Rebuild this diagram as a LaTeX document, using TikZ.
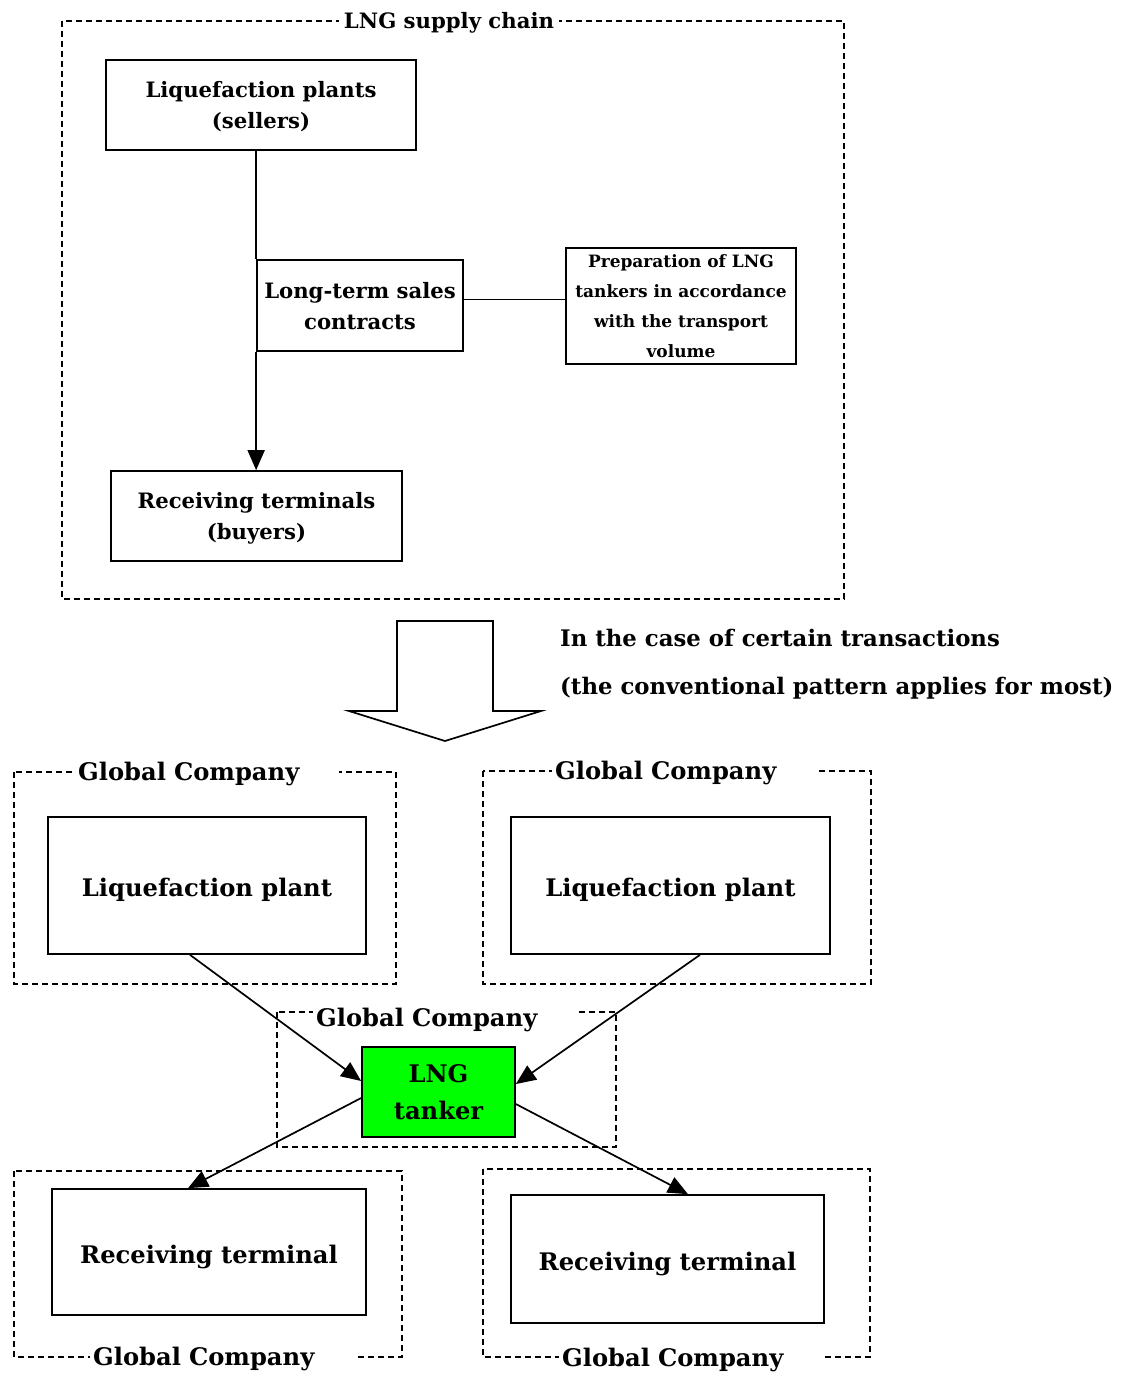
\documentclass[tikz,border=0pt]{standalone}
\usepackage{fontspec}
\setmainfont{DejaVu Serif}
\usetikzlibrary{arrows.meta}
\definecolor{tankergreen}{RGB}{0,255,0}
\newcommand{\boxfont}{\fontsize{24.2}{37}\selectfont\bfseries}
\newcommand{\chainfont}{\fontsize{21.2}{31}\selectfont\bfseries}
\newcommand{\prepfont}{\fontsize{17}{30}\selectfont\bfseries}
\newcommand{\notefont}{\fontsize{22.8}{48}\selectfont\bfseries}
\tikzset{
  plainbox/.style={draw, line width=1.7pt, inner sep=0pt, align=center},
  onelinebox/.style={plainbox, font=\boxfont, text height=24pt, text depth=2pt},
  twolinebox/.style={plainbox, font=\chainfont, text depth=0pt},
  framebox/.style={draw, line width=1.6pt, dash pattern=on 6pt off 4pt},
  framelabel/.style={fill=white, inner xsep=3pt, inner ysep=2pt, anchor=west,
    text width=258pt, align=left, font=\boxfont},
  link/.style={line width=1.7pt},
  arrowlink/.style={line width=1.7pt, -{Triangle[length=20pt,width=17pt]}}
}
\begin{document}
\begin{tikzpicture}[x=1pt,y=-1pt]
\useasboundingbox (0,0) rectangle (1130,1374);

% The supply chain frame
\draw[framebox] (62,21) rectangle (844,599);

\node[twolinebox, minimum width=310pt, minimum height=90pt]
  (plants) at (261,105) {Liquefaction plants\\(sellers)};
\node[twolinebox, minimum width=206pt, minimum height=91pt]
  (contracts) at (360,305.5) {Long-term sales\\contracts};
\node[plainbox, font=\prepfont, minimum width=230pt, minimum height=116pt]
  (prep) at (681,306) {Preparation of LNG\\tankers in accordance\\with the transport\\volume};
\node[twolinebox, minimum width=291pt, minimum height=90pt]
  (buyers) at (256.5,516) {Receiving terminals\\(buyers)};

% the lines of the chain
\draw[link] (contracts.north west |- plants.south) -- (contracts.north west);
\draw[arrowlink] (contracts.south west) -- (buyers.north -| contracts.south west);
\draw[link] ([yshift=6pt]contracts.east) -- ([yshift=6pt]contracts.east -| prep.west);

\node[fill=white, inner xsep=5pt, inner ysep=2pt, font=\chainfont] (chain) at (449,23) {LNG supply chain};

% the big arrow and the note
\draw[line width=1.7pt] (397,621) -- (493,621) -- (493,711) -- (541,711) -- (445,741)
  -- (349,711) -- (397,711) -- cycle;
\node[anchor=west, align=left, inner sep=0pt, font=\notefont] (note) at (560,664)
  {In the case of certain transactions\\(the conventional pattern applies for most)};

% the company frames
\draw[framebox] (14,772) rectangle (396,984);
\draw[framebox] (483,771) rectangle (871,984);
\draw[framebox] (277,1012) rectangle (616,1147);
\draw[framebox] (14,1171) rectangle (402,1357);
\draw[framebox] (483,1169) rectangle (870,1357);

% the boxes inside
\node[onelinebox, minimum width=318pt, minimum height=137pt]
  (plantA) at (207,885.5) {Liquefaction plant};
\node[onelinebox, minimum width=319pt, minimum height=137pt]
  (plantB) at (670.5,885.5) {Liquefaction plant};
\node[plainbox, font=\boxfont, fill=tankergreen, minimum width=153pt, minimum height=90pt]
  (tanker) at (438.5,1092) {LNG\\tanker};
\node[onelinebox, minimum width=314pt, minimum height=126pt]
  (termA) at (209,1252) {Receiving terminal};
\node[onelinebox, minimum width=313pt, minimum height=128pt]
  (termB) at (667.5,1259) {Receiving terminal};

% the connectors
\draw[arrowlink] ([xshift=-17pt]plantA.south) -- ([yshift=11pt]tanker.west);
\draw[arrowlink] ([xshift=29.5pt]plantB.south) -- ([yshift=8pt]tanker.east);
\draw[arrowlink] ([yshift=-6pt]tanker.west) -- ([xshift=-21pt]termA.north);
\draw[arrowlink] ([yshift=-12pt]tanker.east) -- ([xshift=20.5pt]termB.north);

% labels of the frames
\node[framelabel] (gcA) at (75,774) {Global Company};
\node[framelabel] (gcB) at (552,773) {Global Company};
\node[framelabel] (gcT) at (313,1020) {Global Company};
\node[framelabel] (gcC) at (90,1359) {Global Company};
\node[framelabel] (gcD) at (559,1360) {Global Company};
\end{tikzpicture}
\end{document}
